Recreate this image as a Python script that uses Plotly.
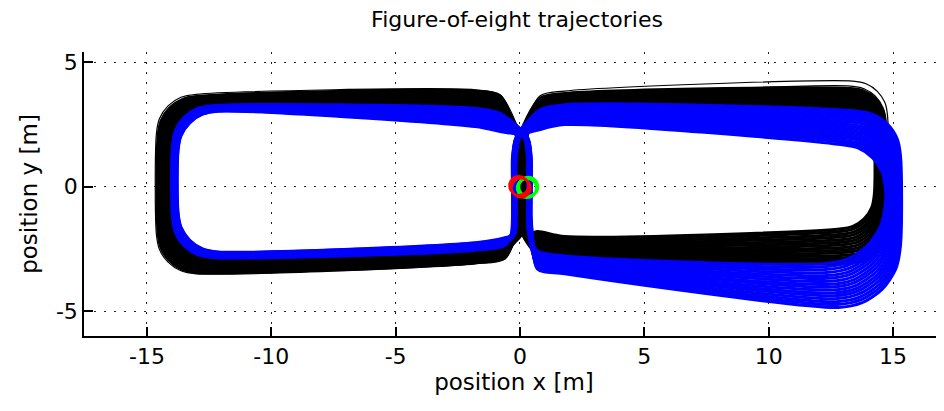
import plotly.graph_objects as go

# ---------------- data ----------------
# Each run is one figure-of-eight lap described by key positions (metres):
# wx1/wx2: x of the two passes through the waist
# ltr: left-loop top y near centre, lt: left-loop top y, ll: left-loop left x
# lb: left-loop bottom y (far left), lbr: left-loop bottom y near centre
# rtl: right-loop top y near centre, rtr: right-loop top y (far right)
# rr: right-loop right x, rbr: right-loop bottom y (far right), rbl: near centre

black_wx1 = [-0.20, -0.16, -0.12, -0.08, -0.04, 0.00, 0.04, 0.08, 0.12, -0.14, -0.02, 0.06, 0.10, -0.06, -0.10, 0.05]
black_wx2 = [0.05, 0.09, 0.13, 0.17, 0.21, 0.25, 0.29, 0.02, 0.11, 0.19, 0.27, 0.07, 0.15, 0.23, 0.20, 0.15]
black_ltr = [3.85, 3.77, 3.69, 3.62, 3.54, 3.46, 3.38, 3.31, 3.23, 3.15, 3.08, 3.00, 2.92, 2.85, 3.90, 3.60]
black_lt = [3.64, 3.60, 3.56, 3.52, 3.48, 3.45, 3.41, 3.37, 3.33, 3.29, 3.26, 3.22, 3.19, 3.15, 3.72, 3.55]
black_ll = [-14.55, -14.51, -14.47, -14.43, -14.40, -14.36, -14.32, -14.28, -14.24, -14.20, -14.17, -14.13, -14.09, -14.05, -14.62, -14.40]
black_lb = [-3.45, -3.40, -3.35, -3.30, -3.25, -3.20, -3.15, -3.10, -3.05, -3.00, -2.95, -2.90, -2.85, -2.80, -3.50, -3.20]
black_lbr = [-3.05, -3.00, -2.96, -2.91, -2.87, -2.82, -2.78, -2.73, -2.69, -2.64, -2.60, -2.55, -2.51, -2.46, -3.10, -2.80]
black_rtl = [3.75, 3.69, 3.63, 3.58, 3.52, 3.46, 3.40, 3.35, 3.29, 3.23, 3.17, 3.12, 3.06, 3.00, 3.85, 3.60]
black_rtr = [3.95, 3.88, 3.81, 3.74, 3.67, 3.60, 3.53, 3.47, 3.40, 3.33, 3.26, 3.19, 3.12, 3.05, 4.25, 4.05]
black_rr = [14.70, 14.67, 14.63, 14.60, 14.56, 14.53, 14.49, 14.46, 14.42, 14.39, 14.35, 14.32, 14.28, 14.25, 14.78, 14.70]
black_rbr = [-3.05, -2.95, -2.84, -2.74, -2.63, -2.53, -2.43, -2.32, -2.22, -2.12, -2.01, -1.91, -1.80, -1.70, -3.10, -2.90]
black_rbl = [-2.90, -2.83, -2.76, -2.69, -2.62, -2.55, -2.48, -2.42, -2.35, -2.28, -2.21, -2.14, -2.07, -2.00, -2.95, -2.50]
black_width = [3, 3, 3, 3, 3, 3, 3, 3, 3, 3, 3, 3, 3, 3, 1.2, 1.2]

blue_wx1 = [-0.30, -0.27, -0.24, -0.21, -0.18, -0.15, -0.29, -0.26, -0.23, -0.20, -0.17, -0.28, -0.25, -0.22, -0.19, -0.16]
blue_wx2 = [0.45, 0.42, 0.39, 0.36, 0.33, 0.30, 0.44, 0.41, 0.38, 0.35, 0.32, 0.43, 0.40, 0.37, 0.34, 0.31]
blue_ltr = [3.15, 3.10, 3.05, 3.00, 2.96, 2.91, 2.86, 2.81, 2.76, 2.71, 2.66, 2.61, 2.57, 2.52, 2.47, 2.42]
blue_lt = [3.26, 3.25, 3.23, 3.22, 3.20, 3.19, 3.17, 3.16, 3.14, 3.13, 3.11, 3.10, 3.08, 3.07, 3.05, 3.04]
blue_ll = [-13.97, -13.96, -13.94, -13.93, -13.91, -13.90, -13.88, -13.87, -13.85, -13.84, -13.82, -13.81, -13.79, -13.78, -13.76, -13.75]
blue_lb = [-2.84, -2.83, -2.81, -2.80, -2.78, -2.77, -2.75, -2.74, -2.72, -2.71, -2.69, -2.68, -2.66, -2.65, -2.63, -2.62]
blue_lbr = [-2.55, -2.53, -2.51, -2.49, -2.47, -2.45, -2.43, -2.41, -2.39, -2.37, -2.35, -2.33, -2.31, -2.29, -2.27, -2.25]
blue_rtl = [3.30, 3.25, 3.19, 3.14, 3.09, 3.03, 2.98, 2.93, 2.87, 2.82, 2.77, 2.71, 2.66, 2.61, 2.55, 2.50]
blue_rtr = [3.05, 2.96, 2.87, 2.78, 2.69, 2.60, 2.51, 2.42, 2.33, 2.24, 2.15, 2.06, 1.97, 1.88, 1.79, 1.70]
blue_rr = [15.30, 15.26, 15.22, 15.18, 15.14, 15.10, 15.06, 15.02, 14.98, 14.94, 14.90, 14.86, 14.82, 14.78, 14.74, 14.70]
blue_rbr = [-4.85, -4.73, -4.62, -4.50, -4.38, -4.27, -4.15, -4.03, -3.92, -3.80, -3.68, -3.57, -3.45, -3.33, -3.22, -3.10]
blue_rbl = [-3.50, -3.45, -3.40, -3.36, -3.31, -3.26, -3.21, -3.16, -3.12, -3.07, -3.02, -2.97, -2.92, -2.88, -2.83, -2.78]

start_red_x = [0.00, -0.05, 0.05]
start_red_y = [0.00, 0.05, -0.05]
start_green_x = [0.28, 0.33]
start_green_y = [-0.05, 0.00]

x_ticks = [-15, -10, -5, 0, 5, 10, 15]
y_ticks = [-5, 0, 5]

title_text = "Figure-of-eight trajectories"
x_label = "position x [m]"
y_label = "position y [m]"

# quarter-circle shape of a rounded corner (unit radius), from one edge to the next
CORNER = [(1.0, 0.0), (0.617, 0.076), (0.293, 0.293), (0.076, 0.617), (0.0, 1.0)]


def lap(wx1, wx2, ltr, lt, ll, lb, lbr, rtl, rtr, rr, rbr, rbl, r_l, r_tr, r_br):
    pts = [(wx1, 0.0), (wx1, 1.2), (wx1 + 0.15, 2.0), (0.8, rtl - 0.2), (1.8, rtl)]
    pts += [(rr - r_tr * a, rtr - r_tr * b) for a, b in CORNER]
    pts += [(rr - r_br * a, rbr + r_br * b) for a, b in reversed(CORNER)]
    pts += [(1.8, rbl), (0.7, rbl + 0.2), (wx2 + 0.05, -1.9), (wx2, -1.2),
            (wx2, 1.2), (wx2 - 0.15, 2.0), (-0.8, ltr - 0.2), (-1.8, ltr)]
    pts += [(ll + r_l * a, lt - r_l * b) for a, b in CORNER]
    pts += [(ll + r_l * a, lb + r_l * b) for a, b in reversed(CORNER)]
    pts += [(-1.8, lbr), (-0.6, lbr + 0.2), (wx1 - 0.05, -1.9), (wx1, -1.2), (wx1, 0.0)]
    return [p[0] for p in pts], [p[1] for p in pts]


fig = go.Figure()

for i in range(len(black_wx1)):
    xs, ys = lap(black_wx1[i], black_wx2[i], black_ltr[i], black_lt[i], black_ll[i],
                 black_lb[i], black_lbr[i], black_rtl[i], black_rtr[i], black_rr[i],
                 black_rbr[i], black_rbl[i], 1.6, 1.4, 1.4)
    fig.add_trace(go.Scatter(x=xs, y=ys, mode="lines",
                             line=dict(color="#000000", width=black_width[i],
                                       shape="spline", smoothing=0.8),
                             hoverinfo="skip", showlegend=False))

for i in range(len(blue_wx1)):
    xs, ys = lap(blue_wx1[i], blue_wx2[i], blue_ltr[i], blue_lt[i], blue_ll[i],
                 blue_lb[i], blue_lbr[i], blue_rtl[i], blue_rtr[i], blue_rr[i],
                 blue_rbr[i], blue_rbl[i], 1.6, 1.8, 2.5)
    fig.add_trace(go.Scatter(x=xs, y=ys, mode="lines",
                             line=dict(color="#0000FF", width=3,
                                       shape="spline", smoothing=0.8),
                             hoverinfo="skip", showlegend=False))

fig.add_trace(go.Scatter(x=start_green_x, y=start_green_y, mode="markers",
                         marker=dict(symbol="circle-open", size=19, color="#00FF00",
                                     line=dict(width=3, color="#00FF00")),
                         hoverinfo="skip", showlegend=False))
fig.add_trace(go.Scatter(x=start_red_x, y=start_red_y, mode="markers",
                         marker=dict(symbol="circle-open", size=19, color="#FF0000",
                                     line=dict(width=2, color="#FF0000")),
                         hoverinfo="skip", showlegend=False))

font = "DejaVu Sans, Liberation Sans, Arial, sans-serif"
axis_common = dict(
    showline=True, linecolor="black", linewidth=1.5, mirror=False,
    ticks="inside", ticklen=9, tickwidth=1.5, tickcolor="black",
    showgrid=True, gridcolor="#222222", gridwidth=1, griddash="2px,8px",
    zeroline=False, automargin=False,
    tickfont=dict(family=font, size=22, color="black"),
)

# the page adds an 8 px body margin, so the figure is 8 px smaller each way
W, H = 936, 403
fig.update_layout(
    width=W, height=H,
    margin=dict(l=76, r=0, t=44, b=75, autoexpand=False),
    paper_bgcolor="white", plot_bgcolor="white",
    title=dict(text=title_text, x=509 / W, xanchor="center", y=1 - 4 / H, yanchor="top",
               font=dict(family=font, size=22, color="black")),
    xaxis=dict(range=[-17.53, 17.05], tickvals=x_ticks, ticktext=[str(v) for v in x_ticks],
               title=dict(text=x_label, font=dict(family=font, size=23, color="black"), standoff=4),
               **axis_common),
    yaxis=dict(range=[-6.0, 5.42], tickvals=y_ticks, ticktext=[str(v) for v in y_ticks],
               title=dict(text=y_label, font=dict(family=font, size=23, color="black"), standoff=12),
               **axis_common),
)

fig.write_html("out.html")
